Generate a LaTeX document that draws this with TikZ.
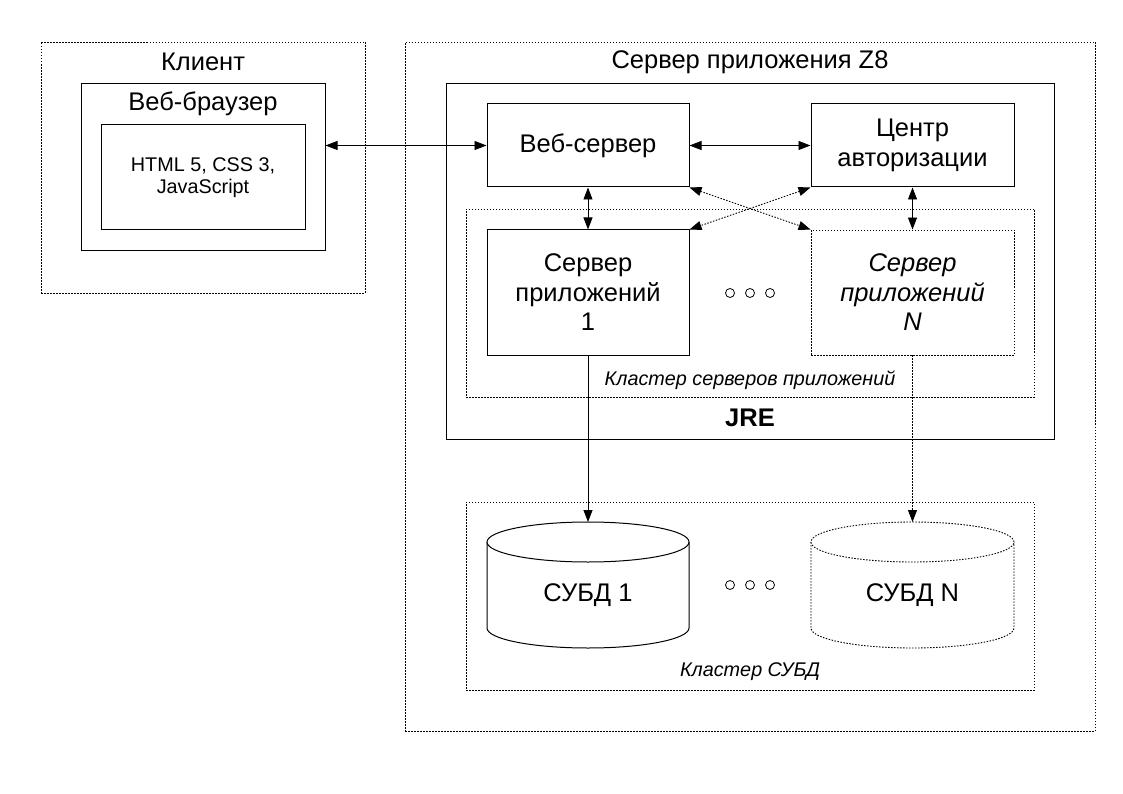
\documentclass[tikz,border=0pt]{standalone}
\usepackage{fontspec}
\setmainfont{Liberation Sans}
\usetikzlibrary{arrows.meta}
\begin{document}
\begin{tikzpicture}[x=1pt,y=-1pt,
  big/.style={font=\fontsize{25.5}{29.5}\selectfont, align=center},
  small/.style={font=\fontsize{19.8}{22}\selectfont, align=center},
  sbox/.style={draw, line width=1pt, inner sep=0pt},
  dbox/.style={draw, line width=0.9pt, dash pattern=on 1.5pt off 1.5pt, inner sep=0pt},
  arr/.style={line width=0.9pt, {Triangle[length=12pt,width=9pt]}-{Triangle[length=12pt,width=9pt]}},
  arrone/.style={line width=0.9pt, -{Triangle[length=12pt,width=9pt]}},
  dotl/.style={dash pattern=on 1.5pt off 1.5pt},
  ring/.style={circle, draw, line width=0.8pt, minimum size=9pt, inner sep=0pt}
]
\useasboundingbox (0,0) rectangle (1123,794);
% Client
\node[dbox, minimum width=324pt, minimum height=251pt] (client) at (203,167.5) {};
\node[big] (clientt) at (203,62) {Клиент};
\node[sbox, minimum width=244pt, minimum height=166pt] (browser) at (203,167) {};
\node[big] (browsert) at (203,104) {Веб-браузер};
\node[sbox, minimum width=204pt, minimum height=105pt] (inner) at (203,177.5) {};
\node[small] (innert) at (203,177.5) {HTML 5, CSS 3,\\JavaScript};
% Server
\node[dbox, minimum width=690pt, minimum height=689pt] (server) at (750,386.5) {};
\node[big] (servert) at (750,62) {Сервер приложения Z8};
\node[sbox, minimum width=608pt, minimum height=355pt] (jre) at (750,261.5) {};
\node[big, font=\fontsize{25.5}{29.5}\selectfont\bfseries] (jret) at (750,418) {JRE};
\node[sbox, big, minimum width=202pt, minimum height=83pt] (ws) at (588,145.5) {Веб-сервер};
\node[sbox, big, minimum width=203pt, minimum height=83pt] (ac) at (912.5,145.5) {Центр\\авторизации};
\node[dbox, minimum width=568pt, minimum height=188pt] (cl1) at (750,303) {};
\node[small, font=\fontsize{19.8}{22}\selectfont\itshape] (cl1t) at (750,380) {Кластер серверов приложений};
\node[sbox, big, minimum width=202pt, minimum height=125pt, fill=white] (s1) at (588,292.5) {Сервер\\приложений\\1};
\node[dbox, big, minimum width=203pt, minimum height=125pt, fill=white, font=\fontsize{25.5}{29.5}\selectfont\itshape] (sn) at (912.5,292.5) {Сервер\\приложений\\N};
\node[ring] (r1) at (730,293) {};
\node[ring] (r2) at (750,293) {};
\node[ring] (r3) at (770,293) {};
% DB cluster
\node[dbox, minimum width=568pt, minimum height=188pt] (cl2) at (750,596) {};
\node[small, font=\fontsize{19.8}{22}\selectfont\itshape] (cl2t) at (750,672) {Кластер СУБД};
% DB1 cylinder
\draw[line width=1pt, fill=white] (487,542) -- (487,628) arc[start angle=180, end angle=360, x radius=101pt, y radius=20pt] -- (689,542);
\draw[line width=1pt, fill=white] (588,542) ellipse [x radius=101pt, y radius=20pt];
\coordinate (db1top) at (588,522);
\node[big] (db1) at (588,595) {СУБД 1};
% DBN cylinder
\draw[line width=0.9pt, dotl, fill=white] (811,542) -- (811,628) arc[start angle=180, end angle=360, x radius=101.5pt, y radius=20pt] -- (1014,542);
\draw[line width=0.9pt, dotl, fill=white] (912.5,542) ellipse [x radius=101.5pt, y radius=20pt];
\coordinate (dbntop) at (912.5,522);
\node[big] (dbn) at (912.5,595) {СУБД N};
\node[ring] (q1) at (730,585) {};
\node[ring] (q2) at (750,585) {};
\node[ring] (q3) at (770,585) {};
% Connectors
\draw[arr] (browser.east |- ws.west) -- (ws.west);
\draw[arr] (ws.east) -- (ac.west);
\draw[arr] (ws.south) -- (s1.north);
\draw[arr] (ac.south) -- (sn.north);
\draw[arr, dotl] (ws.south east) -- (sn.north west);
\draw[arr, dotl] (ac.south west) -- (s1.north east);
\draw[arrone] (s1.south) -- (db1top);
\draw[arrone, dotl] (sn.south) -- (dbntop);
\end{tikzpicture}
\end{document}
